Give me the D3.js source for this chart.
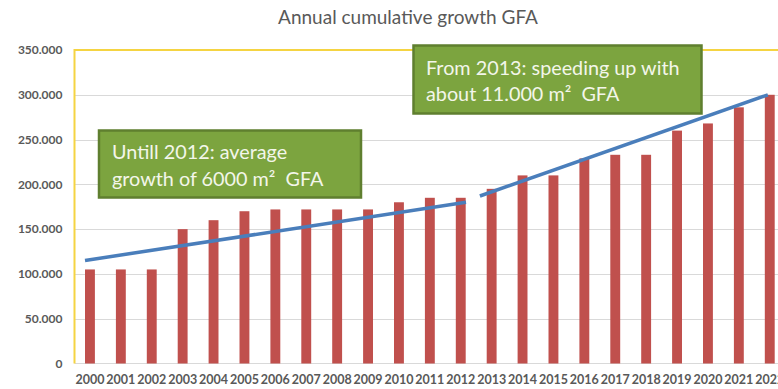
<!DOCTYPE html>
<html>
<head>
<meta charset="utf-8">
<script src="https://cdn.jsdelivr.net/npm/d3@7"></script>
<style>
  html, body { margin: 0; padding: 0; background: #fff; }
  svg { display: block; }
</style>
</head>
<body>
<svg id="chart" width="778" height="389"></svg>
<script>
// Cumulative gross floor area per year
const years = [2000, 2001, 2002, 2003, 2004, 2005, 2006, 2007, 2008, 2009, 2010,
               2011, 2012, 2013, 2014, 2015, 2016, 2017, 2018, 2019, 2020, 2021, 2022];
const gfa = [105000, 105000, 105000, 150000, 160000, 170000, 172000, 172000, 172000, 172000, 180000,
             185000, 185000, 195000, 210000, 210000, 229000, 233000, 233000, 260000, 268000, 286000, 300000];
const yTicks = [0, 50000, 100000, 150000, 200000, 250000, 300000, 350000];

// Trend lines: [year position, value]
const trendBefore2013 = [[1999.84, 115000], [2012.17, 180000]];
const trendFrom2013 = [[2012.62, 187000], [2021.94, 300000]];

const titleText = "Annual cumulative growth GFA";
const noteEarly = ["Untill 2012: average", "growth of 6000 m\u00B2\u00A0\u00A0GFA"];
const noteLate = ["From 2013: speeding up with", "about 11.000 m\u00B2\u00A0\u00A0GFA"];

const svg = d3.select("#chart");
const font = "Lato, 'Open Sans', 'DejaVu Sans', sans-serif";

const plotLeft = 74.5, plotTop = 50, plotBottom = 363.5;
const step = 30.9;
const plotRight = plotLeft + step * years.length;

const x = d3.scaleBand().domain(years).range([plotLeft, plotRight])
  .paddingInner(0.68).paddingOuter(0.34);
const y = d3.scaleLinear().domain([0, 350000]).range([plotBottom, plotTop]);
const xc = d3.scaleLinear()
  .domain([years[0], years[years.length - 1]])
  .range([x(years[0]) + x.bandwidth() / 2, x(years[years.length - 1]) + x.bandwidth() / 2]);

const nl = d3.formatLocale({ decimal: ",", thousands: ".", grouping: [3], currency: ["", ""] });
const fmt = nl.format(",.0f");

// Title
svg.append("text")
  .attr("x", 408).attr("y", 23.5)
  .attr("text-anchor", "middle")
  .attr("font-family", font).attr("font-size", 19)
  .attr("fill", "#595959")
  .text(titleText);

// Horizontal gridlines
svg.append("g").selectAll("line")
  .data(yTicks.filter(t => t > 0 && t < 350000))
  .join("line")
  .attr("x1", plotLeft).attr("x2", 778)
  .attr("y1", d => Math.round(y(d)) + 0.5).attr("y2", d => Math.round(y(d)) + 0.5)
  .attr("stroke", "#d9d9d9").attr("stroke-width", 1);

// Category baseline
svg.append("line")
  .attr("x1", plotLeft).attr("x2", 778)
  .attr("y1", y(0)).attr("y2", y(0))
  .attr("stroke", "#d9d9d9").attr("stroke-width", 1);

// Y axis labels
const yAxis = d3.axisLeft(y).tickValues(yTicks).tickFormat(fmt).tickSize(0).tickPadding(12);
const gy = svg.append("g").attr("transform", `translate(${plotLeft},0)`).call(yAxis);
gy.select(".domain").remove();
gy.selectAll("text")
  .attr("font-family", font).attr("font-size", 12).attr("font-weight", "bold")
  .attr("fill", "#595959");

// X axis labels
const xAxis = d3.axisBottom(x).tickSize(0).tickPadding(12);
const gx = svg.append("g").attr("transform", `translate(0,${plotBottom})`).call(xAxis);
gx.select(".domain").remove();
gx.selectAll("text")
  .attr("font-family", font).attr("font-size", 12.5).attr("font-weight", "bold")
  .attr("fill", "#595959");

// Yellow plot frame (left and top)
svg.append("path")
  .attr("d", `M${plotLeft},${plotBottom}V${plotTop}H778`)
  .attr("fill", "none")
  .attr("stroke", "#f5d442").attr("stroke-width", 2);

// Bars
svg.append("g").selectAll("rect")
  .data(years.map((yr, i) => ({ yr, v: gfa[i] })))
  .join("rect")
  .attr("x", d => x(d.yr))
  .attr("width", x.bandwidth())
  .attr("y", d => y(d.v))
  .attr("height", d => y(0) - y(d.v))
  .attr("fill", "#c0504d");

// Trend lines
const line = d3.line().x(d => xc(d[0])).y(d => y(d[1]));
[trendBefore2013, trendFrom2013].forEach(t => {
  svg.append("path")
    .attr("d", line(t))
    .attr("fill", "none")
    .attr("stroke", "#4a7ebb").attr("stroke-width", 3.5)
    .attr("stroke-linecap", "butt");
});

// Annotation boxes
function note(bx, by, bw, bh, lines, tx, ty, lh) {
  const g = svg.append("g");
  g.append("rect")
    .attr("x", bx).attr("y", by).attr("width", bw).attr("height", bh)
    .attr("fill", "#7ca43f").attr("stroke", "#5f7f2f").attr("stroke-width", 2.5);
  lines.forEach((s, i) => {
    g.append("text")
      .attr("x", tx).attr("y", ty + i * lh)
      .attr("font-family", font).attr("font-size", 19.8)
      .attr("fill", "#f3f6ea")
      .text(s);
  });
}
note(99, 130.5, 262, 67, noteEarly, 112, 159, 26.5);
note(413.5, 45.5, 288, 68, noteLate, 426, 75, 26);
</script>
</body>
</html>
